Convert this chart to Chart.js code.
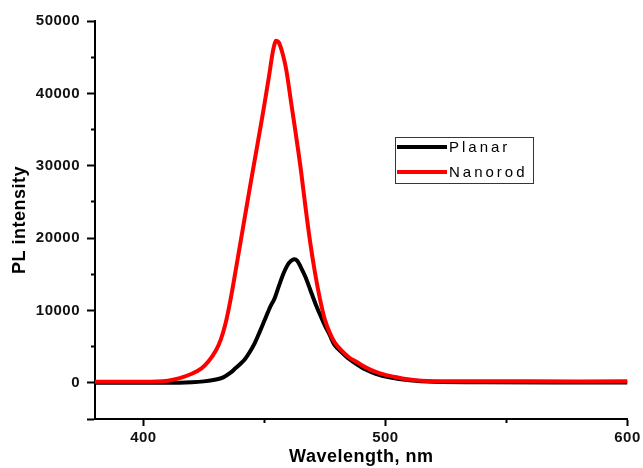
<!DOCTYPE html>
<html>
<head>
<meta charset="utf-8">
<script src="https://cdn.jsdelivr.net/npm/chart.js@4.4.0/dist/chart.umd.min.js"></script>
<style>
  html, body { margin: 0; padding: 0; background: #fff; }
  #wrap { width: 643px; height: 468px; }
</style>
</head>
<body>
<div id="wrap"><canvas id="pl"></canvas></div>
<script>
// wavelength (nm) / intensity
const planarX = [380, 410, 420, 425, 430, 433, 436, 438, 440, 442, 444, 446, 448, 450, 452, 453, 454, 456, 458, 460, 462, 463.5, 465, 467, 469, 471, 473, 475, 477, 479, 482, 485, 488, 492, 496, 501, 510, 520, 540, 600];
const planarY = [0, 0, 80, 200, 450, 750, 1400, 2000, 2600, 3300, 4300, 5500, 7000, 8600, 10200, 10900, 11500, 13400, 15200, 16500, 17050, 16900, 16000, 14600, 12800, 11000, 9400, 7900, 6600, 5200, 4200, 3300, 2600, 1800, 1250, 800, 350, 150, 80, 50];

const nanorodX = [380, 400, 410, 415, 420, 424, 427, 430, 432, 434, 436, 438, 440, 442, 444, 446, 448, 450, 452, 453.5, 454.7, 456, 457.5, 459, 461, 463, 465, 467, 469, 471, 473, 475, 477, 479, 482, 485, 488, 492, 496, 500, 505, 510, 515, 525, 560, 600];
const nanorodY = [150, 150, 300, 650, 1250, 2000, 3000, 4500, 6000, 8300, 11500, 15300, 19200, 23100, 27000, 30800, 34600, 38500, 42600, 45800, 47250, 47000, 45500, 43300, 38800, 34300, 29600, 24200, 19200, 15000, 11500, 8700, 6900, 5600, 4400, 3500, 2900, 2100, 1500, 1100, 750, 450, 300, 220, 200, 200];

// axis ticks
const xMajor = [400, 500, 600];
const xMinor = [450, 550];
const yMajor = [-5000, 0, 10000, 20000, 30000, 40000, 50000];
const yMinor = [5000, 15000, 25000, 35000, 45000];

const toPoints = (xs, ys) => xs.map((x, i) => ({ x: x, y: ys[i] }));
const setTicks = (list) => (scale) => {
  scale.ticks = list.map((v) => ({ value: v }));
};

// legend drawn inside the plot, like the original
const boxLegend = {
  id: "boxLegend",
  afterDraw(chart) {
    const ctx = chart.ctx;
    const a = chart.chartArea;
    const x0 = a.left + 300, y0 = a.top + 116, w = 138, h = 46;
    ctx.save();
    ctx.letterSpacing = "3px";
    ctx.strokeStyle = "#2020e0";
    ctx.lineWidth = 1;
    ctx.strokeRect(x0 + 0.5, y0 + 0.5, w, h);
    ctx.font = "15px 'Liberation Sans', Arial, sans-serif";
    ctx.textBaseline = "middle";
    ctx.fillStyle = "#000";
    chart.data.datasets.forEach((ds, i) => {
      const yy = y0 + 10 + i * 25;
      ctx.strokeStyle = ds.borderColor;
      ctx.lineWidth = 4;
      ctx.beginPath();
      ctx.moveTo(x0 + 2, yy);
      ctx.lineTo(x0 + 52, yy);
      ctx.stroke();
      ctx.fillText(ds.label, x0 + 54, yy + 1);
    });
    ctx.restore();
  },
};

const spacing = {
  id: "spacing",
  beforeDraw(chart) {
    chart.ctx.letterSpacing = "0.5px";
  },
};

const tickFont = { family: "'Liberation Sans', Arial", size: 15, weight: "bold" };
const titleFont = { family: "'Liberation Sans', Arial", size: 18, weight: "bold" };

// short ticks only, no labels, no space taken
const minorAxis = (position, list) => ({
  type: "linear",
  position: position,
  weight: 0,
  min: position === "left" ? -5000 : 380,
  max: position === "left" ? 50000 : 600,
  afterBuildTicks: setTicks(list),
  afterFit: (scale) => {
    if (position === "left") scale.width = 0;
    else scale.height = 0;
  },
  ticks: { display: false },
  grid: {
    display: true,
    drawOnChartArea: false,
    drawTicks: true,
    tickLength: 4,
    tickWidth: 2,
    tickColor: "#000",
  },
  border: { display: false },
});

const pl = document.getElementById("pl").getContext("2d");

let plChart = new Chart(pl, {
  type: "line",
  data: {
    datasets: [
      {
        label: "Planar",
        data: toPoints(planarX, planarY),
        borderColor: "#000000",
        backgroundColor: "#000000",
        borderWidth: 4,
        tension: 0.3,
        order: 1,
        xAxisID: "x",
        yAxisID: "y",
      },
      {
        label: "Nanorod",
        data: toPoints(nanorodX, nanorodY),
        borderColor: "#ff0000",
        backgroundColor: "#ff0000",
        borderWidth: 4,
        tension: 0.3,
        order: 0,
        xAxisID: "x",
        yAxisID: "y",
      },
    ],
  },
  options: {
    animation: false,
    responsive: true,
    maintainAspectRatio: false,
    elements: {
      point: {
        radius: 0,
      },
    },
    layout: {
      padding: { top: 21, right: 15, left: 0, bottom: 0 },
    },
    plugins: {
      legend: { display: false },
      tooltip: { enabled: false },
    },
    scales: {
      x: {
        type: "linear",
        position: "bottom",
        weight: 1,
        min: 380,
        max: 600,
        afterBuildTicks: setTicks(xMajor),
        afterFit: (scale) => {
          scale.height = 49;
        },
        title: {
          display: true,
          text: "Wavelength, nm",
          color: "#000",
          font: titleFont,
          padding: { top: 0, bottom: 0 },
        },
        ticks: {
          autoSkip: false,
          maxRotation: 0,
          padding: 3,
          color: "#111",
          font: tickFont,
        },
        grid: {
          display: true,
          drawOnChartArea: false,
          drawTicks: true,
          tickLength: 7,
          tickWidth: 2,
          tickColor: "#000",
        },
        border: { display: true, color: "#000", width: 2 },
      },
      y: {
        type: "linear",
        position: "left",
        weight: 1,
        min: -5000,
        max: 50000,
        afterBuildTicks: setTicks(yMajor),
        afterFit: (scale) => {
          scale.width = 95;
        },
        title: {
          display: true,
          text: "PL intensity",
          color: "#000",
          font: titleFont,
          padding: { top: 9, bottom: 0 },
        },
        ticks: {
          padding: 7,
          color: "#111",
          font: tickFont,
          callback: function (value) {
            return value < 0 ? "" : value;
          },
        },
        grid: {
          display: true,
          drawOnChartArea: false,
          drawTicks: true,
          tickLength: 8,
          tickWidth: 2,
          tickColor: "#000",
        },
        border: { display: true, color: "#000", width: 2 },
      },
      xMinor: minorAxis("bottom", xMinor),
      yMinor: minorAxis("left", yMinor),
    },
  },
  plugins: [spacing, boxLegend],
});
</script>
</body>
</html>
